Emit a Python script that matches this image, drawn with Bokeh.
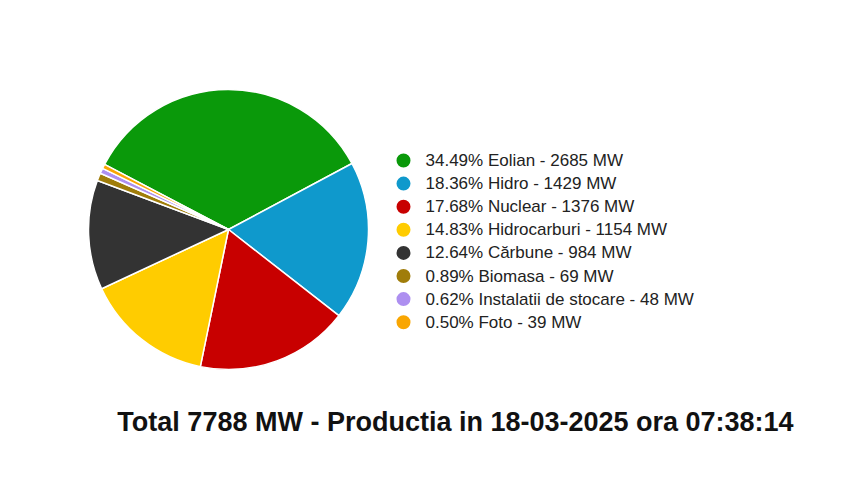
import math
from bokeh.plotting import figure
from bokeh.models import ColumnDataSource, Range1d
from bokeh.embed import file_html
from bokeh.resources import INLINE
from bokeh.core.properties import value

# ---- data ----
sources = ["Eolian", "Hidro", "Nuclear", "Hidrocarburi", "Cărbune",
           "Biomasa", "Instalatii de stocare", "Foto"]
mw = [2685, 1429, 1376, 1154, 984, 69, 48, 39]
percent_labels = ["34.49%", "18.36%", "17.68%", "14.83%", "12.64%",
                  "0.89%", "0.62%", "0.50%"]
colors = ["#0a990a", "#0f99cc", "#c80000", "#ffcc00", "#333333",
          "#a07d0a", "#ad8ff0", "#f9a602"]
total_mw = 7788
timestamp = "18-03-2025 ora 07:38:14"

# ---- layout ----
W, H = 826, 464
cx, cy, r = 228, 235, 140
start_deg = 152.3
leg_circle_x, leg_text_x = 403, 425
leg_top, leg_step = 304, 23.1

s = sum(mw)
starts, ends = [], []
acc = 0.0
for v in mw:
    a0 = math.radians(start_deg) - acc / s * 2 * math.pi
    acc += v
    a1 = math.radians(start_deg) - acc / s * 2 * math.pi
    starts.append(a0)
    ends.append(a1)

labels = [f"{pc} {name} - {v} MW" for pc, name, v in zip(percent_labels, sources, mw)]
ly = [leg_top - i * leg_step for i in range(len(mw))]

src = ColumnDataSource(dict(start=starts, end=ends, color=colors,
                            label=labels, ly=ly,
                            lx=[leg_circle_x] * len(mw),
                            tx=[leg_text_x] * len(mw)))

p = figure(width=W, height=H, x_range=Range1d(0, W), y_range=Range1d(0, H),
           output_backend="svg", toolbar_location=None, min_border=0)
p.axis.visible = False
p.grid.visible = False
p.outline_line_color = None
p.background_fill_color = "white"
p.border_fill_color = "white"

p.wedge(x=cx, y=cy, radius=r, start_angle="start", end_angle="end",
        direction="clock", fill_color="color", line_color="white",
        line_width=1.5, source=src)

p.scatter(x="lx", y="ly", size=14, fill_color="color", line_color=None,
          source=src)
p.text(x="tx", y="ly", text="label", text_font=value("Liberation Sans"),
       text_font_size="17px", text_baseline="middle", text_align="left",
       text_color="#222222", source=src)

p.text(x=[455], y=[43], text=[f"Total {total_mw} MW - Productia in {timestamp}"],
       text_font=value("Liberation Sans"), text_font_size="27px",
       text_font_style="bold", text_align="center", text_baseline="middle",
       text_color="#111111")

open("out.html", "w").write(file_html(p, INLINE))
